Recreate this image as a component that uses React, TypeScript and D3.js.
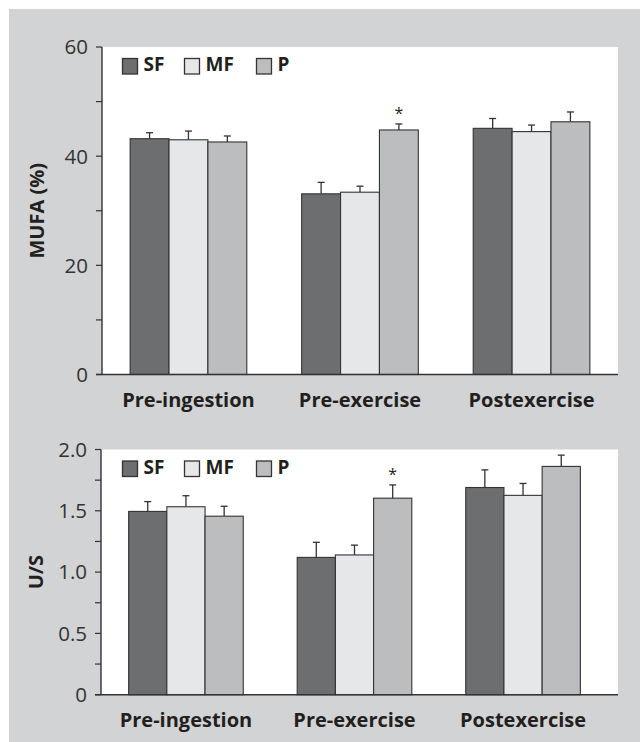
import * as d3 from 'd3'

const groups = ['Pre-ingestion', 'Pre-exercise', 'Postexercise']
const series = ['SF', 'MF', 'P']
const seriesColors = ['#6d6e70', '#e6e7e8', '#bcbdbf']

// MUFA (%) mean and SEM, per series, across groups
const mufaMean = [
    [43.2, 33.1, 45.1],
    [43.0, 33.4, 44.5],
    [42.6, 44.8, 46.3],
]
const mufaErr = [
    [1.1, 2.1, 1.8],
    [1.6, 1.1, 1.2],
    [1.1, 1.1, 1.8],
]
const mufaTicks = [0, 10, 20, 30, 40, 50, 60]
const mufaLabels = ['0', '', '20', '', '40', '', '60']

// U/S ratio mean and SEM
const usMean = [
    [1.495, 1.12, 1.69],
    [1.533, 1.14, 1.626],
    [1.456, 1.603, 1.862],
]
const usErr = [
    [0.08, 0.123, 0.144],
    [0.09, 0.08, 0.097],
    [0.081, 0.108, 0.092],
]
const usTicks = [0, 0.25, 0.5, 0.75, 1, 1.25, 1.5, 1.75, 2]
const usLabels = ['0', '', '0.5', '', '1.0', '', '1.5', '', '2.0']

// significance marks: [series index, group index]
const mufaStars = [[2, 1]]
const usStars = [[2, 1]]

const FONT = '"Open Sans", sans-serif'
const INK = '#333333'
const TEXT = '#231f20'

interface PanelProps {
    top: number
    bottom: number
    left: number
    right: number
    bandRight: number
    yMax: number
    means: number[][]
    errs: number[][]
    ticks: number[]
    labels: string[]
    stars: number[][]
    title: string
}

const Panel = ({ top, bottom, left, right, bandRight, yMax, means, errs, ticks, labels, stars, title }: PanelProps) => {
    const y = d3.scaleLinear().domain([0, yMax]).range([bottom, top])
    const x0 = d3.scaleBand<string>().domain(groups).range([left, bandRight]).paddingInner(0.32).paddingOuter(0.164)
    const x1 = d3.scaleBand<string>().domain(series).range([0, x0.bandwidth()])

    return (
        <g>
            <rect x={left} y={top} width={right - left} height={bottom - top} fill="#ffffff" />
            {series.map((s, si) =>
                groups.map((g, gi) => {
                    const bx = (x0(g) as number) + (x1(s) as number)
                    const bw = x1.bandwidth()
                    const v = means[si][gi]
                    const e = v + errs[si][gi]
                    const cx = bx + bw / 2
                    return (
                        <g key={s + g}>
                            <line x1={cx} x2={cx} y1={y(v)} y2={y(e)} stroke={INK} strokeWidth={1.3} />
                            <line x1={cx - 3.5} x2={cx + 3.5} y1={y(e)} y2={y(e)} stroke={INK} strokeWidth={1.3} />
                            <rect x={bx} y={y(v)} width={bw} height={bottom - y(v)} fill={seriesColors[si]} stroke={INK} strokeWidth={1.1} />
                        </g>
                    )
                })
            )}
            {stars.map(([si, gi]) => {
                const bx = (x0(groups[gi]) as number) + (x1(series[si]) as number) + x1.bandwidth() / 2
                const e = means[si][gi] + errs[si][gi]
                return (
                    <text key={'star' + si + gi} x={bx} y={y(e) - 5} textAnchor="middle" fontFamily={FONT} fontSize={16} fill={TEXT}>*</text>
                )
            })}
            <line x1={left} x2={left} y1={top} y2={bottom} stroke={INK} strokeWidth={1.4} />
            <line x1={left - 6} x2={right} y1={bottom} y2={bottom} stroke={INK} strokeWidth={1.4} />
            {ticks.map((t, i) => (
                <g key={'t' + t}>
                    <line x1={left - 6} x2={left} y1={y(t)} y2={y(t)} stroke={INK} strokeWidth={1.2} />
                    {labels[i] && (
                        <text x={left - 14} y={y(t)} dy="0.36em" textAnchor="end" fontFamily={FONT} fontSize={20.5} fill={INK}>{labels[i]}</text>
                    )}
                </g>
            ))}
            {groups.map(g => (
                <text key={'g' + g} x={(x0(g) as number) + x0.bandwidth() / 2} y={bottom + 32} textAnchor="middle"
                    fontFamily={FONT} fontWeight="bold" fontSize={20} fill={TEXT}>{g}</text>
            ))}
            <text transform={`translate(${left - 65},${(top + bottom) / 2}) rotate(-90)`} dy="0.36em" textAnchor="middle"
                fontFamily={FONT} fontWeight="bold" fontSize={20} fill={TEXT}>{title}</text>
            {/* legend */}
            {series.map((s, si) => {
                const lx = [122.5, 184.5, 256.5][si]
                return (
                    <g key={'l' + s}>
                        <rect x={lx} y={top + 11.5} width={15} height={15.5} fill={seriesColors[si]} stroke={INK} strokeWidth={1.3} />
                        <text x={lx + 21} y={top + 24} fontFamily={FONT} fontWeight="bold" fontSize={19} fill={TEXT}>{s}</text>
                    </g>
                )
            })}
        </g>
    )
}

const App = () => {
    return (
        <svg width={640} height={742} style={{ position: 'absolute', left: 0, top: 0, background: '#ffffff' }}>
            <rect x={9} y={9} width={631} height={733} fill="#d1d3d4" />
            <Panel top={47} bottom={374.5} left={102} right={618} bandRight={618} yMax={60}
                means={mufaMean} errs={mufaErr} ticks={mufaTicks} labels={mufaLabels} stars={mufaStars} title="MUFA (%)" />
            <Panel top={449.5} bottom={694.7} left={101} right={618} bandRight={608} yMax={2}
                means={usMean} errs={usErr} ticks={usTicks} labels={usLabels} stars={usStars} title="U/S" />
        </svg>
    )
}

export default App
